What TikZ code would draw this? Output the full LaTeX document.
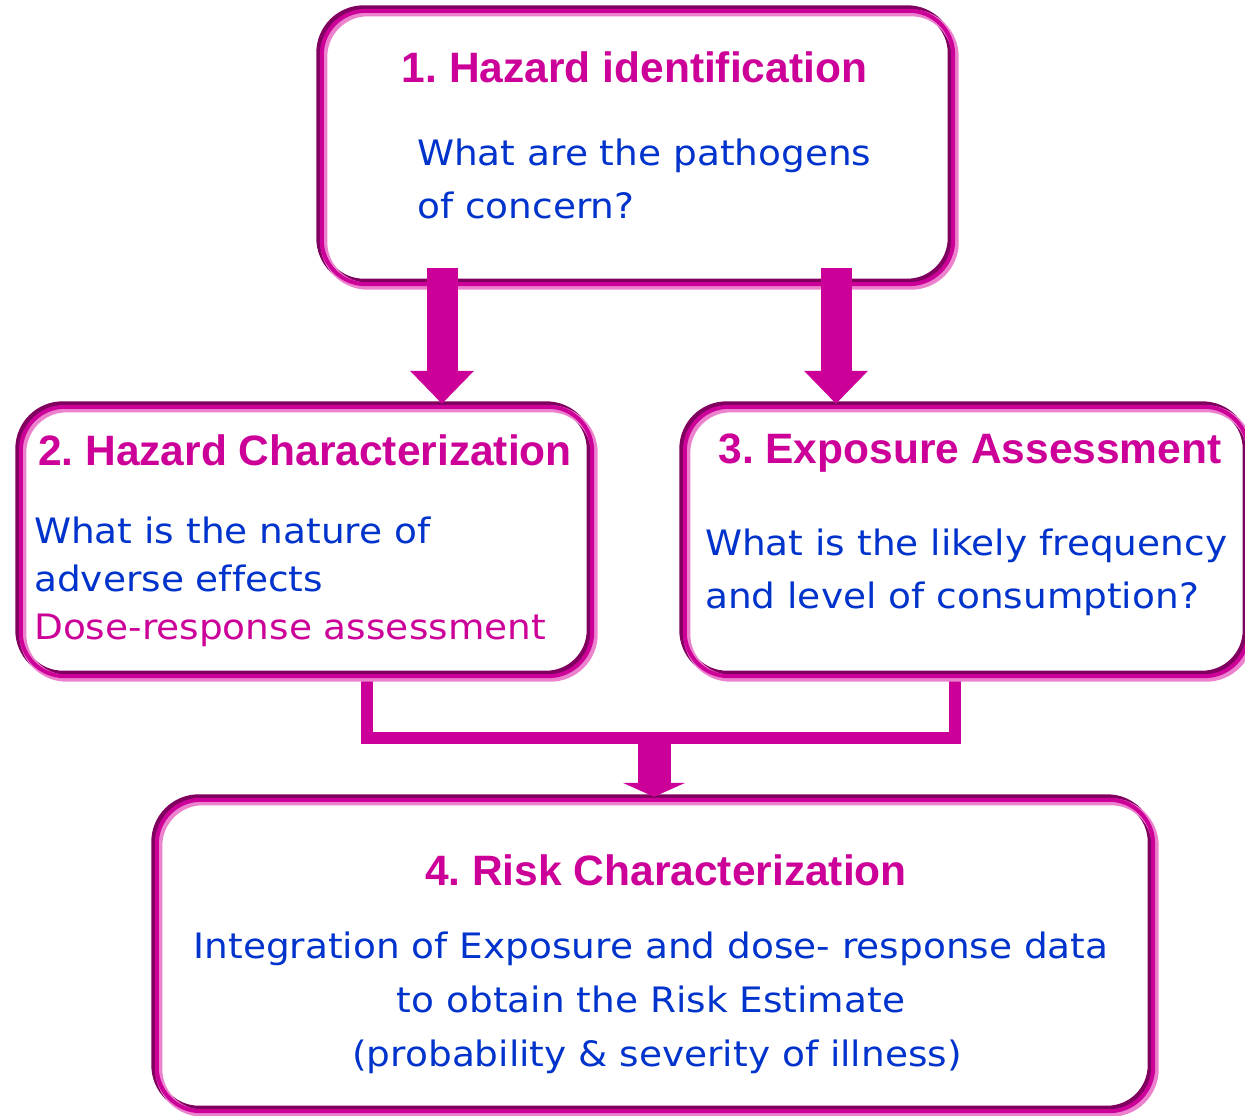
\documentclass[tikz,border=0pt]{standalone}
\usepackage{fontspec}
\usetikzlibrary{arrows.meta,calc}
\newfontfamily\titlefont{Liberation Sans}
\newfontfamily\bodyfont{DejaVu Sans}[FakeStretch=1.07,Ligatures=NoCommon]
\definecolor{mag}{RGB}{204,0,153}
\definecolor{blu}{RGB}{0,51,204}
\definecolor{magdark}{RGB}{128,0,96}
\definecolor{maglight}{RGB}{236,130,206}
\frenchspacing
\newcommand\drawbevel[1]{%
  \fill[white, rounded corners=44pt] (#1.north west) rectangle (#1.south east);
  \draw[magdark, line width=7pt, rounded corners=44pt, transform canvas={xshift=-2pt,yshift=2pt}] (#1.north west) rectangle (#1.south east);
  \draw[maglight, line width=7pt, rounded corners=44pt, transform canvas={xshift=2pt,yshift=-2pt}] (#1.north west) rectangle (#1.south east);
  \draw[mag, line width=4pt, rounded corners=44pt] (#1.north west) rectangle (#1.south east);
}
\begin{document}
\frenchspacing
\begin{tikzpicture}[x=1pt,y=-1pt,
  boxshape/.style={draw=none, inner sep=0pt, rectangle},
  ttl/.style={inner sep=0pt, anchor=base, text=mag, font=\titlefont\bfseries\fontsize{42.5}{50}\selectfont\frenchspacing},
  bodytxt/.style={inner sep=0pt, anchor=base west, text=blu, font=\bodyfont\fontsize{35}{42}\selectfont\frenchspacing},
  bodyc/.style={bodytxt, anchor=base},
  bigarrow/.style={draw=mag, line width=31pt, -{Triangle[width=62pt,length=33pt]}},
  smallarrow/.style={draw=mag, line width=33pt, -{Triangle[width=62pt,length=14pt]}},
  conn/.style={draw=mag, line width=12pt, line join=miter}]
\useasboundingbox (0,0) rectangle (1245,1116);
% boxes (invisible frames)
\node[boxshape, minimum width=631pt, minimum height=273pt] (b1) at (637.5,147.5) {};
\node[boxshape, minimum width=571pt, minimum height=269pt] (b2) at (306.5,541.5) {};
\node[boxshape, minimum width=563pt, minimum height=269pt] (b3) at (966.5,541.5) {};
\node[boxshape, minimum width=996pt, minimum height=311pt] (b4) at (655,955.5) {};
% connector from boxes 2 and 3
\path (b2.south) ++(60.5,0) coordinate (c2);
\path (b3.south) ++(-11.5,0) coordinate (c3);
\draw[conn] (c2) -- (c2 |- 0,737.5) -| (c3);
% frames
\drawbevel{b1}
\drawbevel{b2}
\drawbevel{b3}
\drawbevel{b4}
% arrows
\path (b1.south) ++(-195.5,-16) coordinate (a1s);
\path (b1.south) ++(198.5,-16) coordinate (a2s);
\path (b2.north) ++(135.5,-3) coordinate (a1e);
\path (b3.north) ++(-130.5,-3) coordinate (a2e);
\draw[bigarrow] (a1s) -- (a1e);
\draw[bigarrow] (a2s) -- (a2e);
\coordinate (m) at (654,737.5);
\path (b4.north) ++(-1,-3) coordinate (a3e);
\draw[smallarrow] (m) -- (a3e);
% texts
\node[ttl] (t1) at (634.5,83) {1. Hazard identification};
\node[bodytxt] (t1a) at (417,165) {What are the pathogens};
\node[bodytxt] (t1b) at (417,218) {of concern?};
\node[ttl] (t2) at (305,465) {2. Hazard Characterization};
\node[bodytxt] (t2a) at (34,543) {What is the nature of};
\node[bodytxt] (t2b) at (34,591) {adverse effects};
\node[bodytxt, text=mag] (t2c) at (34,639) {Dose-response assessment};
\node[ttl] (t3) at (970,463) {3. Exposure Assessment};
\node[bodytxt] (t3a) at (705,555) {What is the likely frequency};
\node[bodytxt] (t3b) at (705,608) {and level of consumption?};
\node[ttl] (t4) at (666,885) {4. Risk Characterization};
\node[bodyc] (t4a) at (651,958) {Integration of Exposure and dose- response data};
\node[bodyc] (t4b) at (651,1012) {to obtain the Risk Estimate};
\node[bodyc] (t4c) at (657,1066) {(probability \& severity of illness)};
\end{tikzpicture}
\end{document}
